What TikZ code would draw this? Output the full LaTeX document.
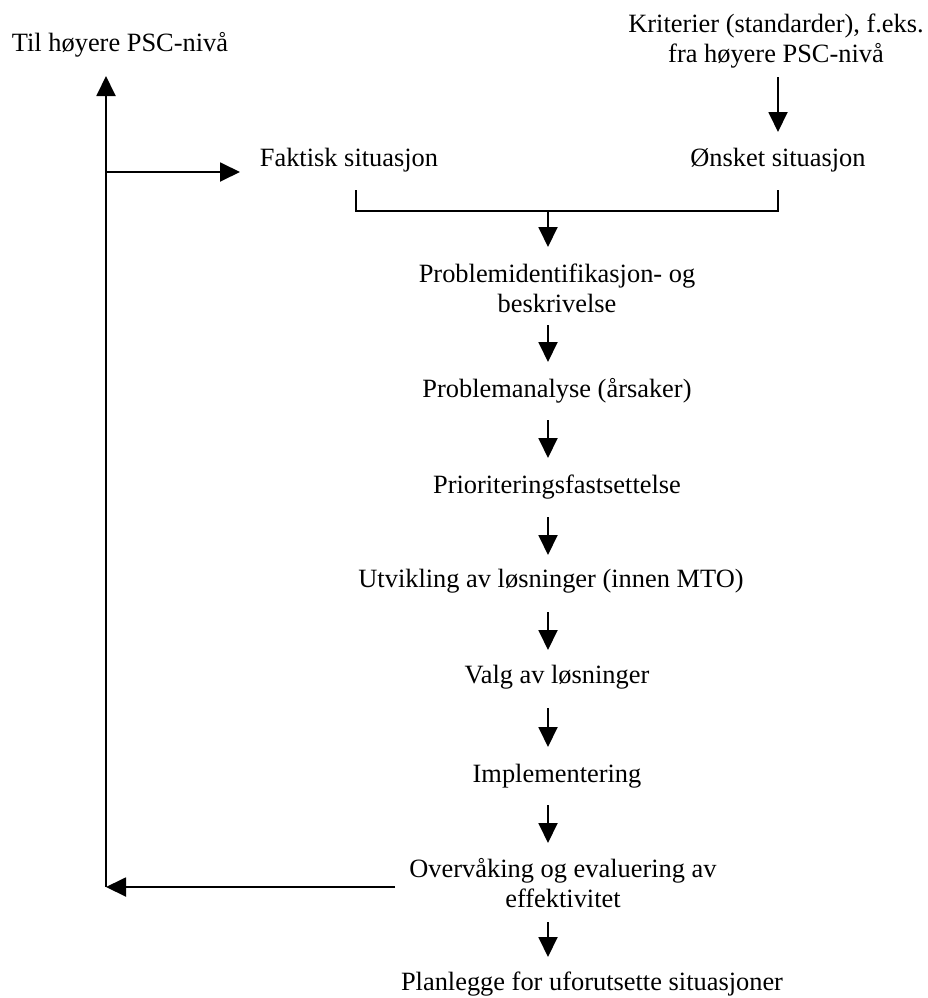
\documentclass[tikz,border=0pt]{standalone}
\usepackage{fontspec}
\setmainfont{Liberation Serif}
\usetikzlibrary{arrows.meta}
\tikzset{
  lbl/.style={inner sep=0pt, anchor=base, align=center, font=\fontsize{26.4}{30}\selectfont},
  ln/.style={line width=1.9pt},
  arr/.style={line width=1.9pt, -{Triangle[length=20pt,width=19pt]}}
}
\begin{document}
\begin{tikzpicture}[x=1pt,y=-1pt]
\useasboundingbox (0,0) rectangle (928,998);
% texts (base = baseline of the last line)
\node[lbl] (til)  at (120,52)  {Til høyere PSC-nivå};
\node[lbl] (krit) at (776,63)  {Kriterier (standarder), f.eks.\\fra høyere PSC-nivå};
\node[lbl] (fakt) at (349,166) {Faktisk situasjon};
\node[lbl] (onsk) at (778,166) {Ønsket situasjon};
\node[lbl] (pid)  at (557,312) {Problemidentifikasjon- og\\beskrivelse};
\node[lbl] (pa)   at (557,397) {Problemanalyse (årsaker)};
\node[lbl] (prio) at (557,493) {Prioriteringsfastsettelse};
\node[lbl] (utv)  at (551,587) {Utvikling av løsninger (innen MTO)};
\node[lbl] (valg) at (557,683) {Valg av løsninger};
\node[lbl] (impl) at (557,782) {Implementering};
\node[lbl] (ove)  at (563,907) {Overvåking og evaluering av\\effektivitet};
\node[lbl] (plan) at (592,990) {Planlegge for uforutsette situasjoner};
% connector end points
\coordinate (bl) at (356,190);
\coordinate (br) at (778,190);
\coordinate (bm) at (548,211);
\coordinate (lbot) at (106,887);
\coordinate (ltop) at (106,76);
\coordinate (lmid) at (106,172);
\coordinate (ftip) at (240,172);
\coordinate (ks) at (778,77);
\coordinate (ke) at (778,132);
\coordinate (a1) at (548,247);
\coordinate (a2s) at (548,325);  \coordinate (a2e) at (548,362);
\coordinate (a3s) at (548,420);  \coordinate (a3e) at (548,458);
\coordinate (a4s) at (548,517);  \coordinate (a4e) at (548,555);
\coordinate (a5s) at (548,612);  \coordinate (a5e) at (548,650);
\coordinate (a6s) at (548,708);  \coordinate (a6e) at (548,747);
\coordinate (a7s) at (548,805);  \coordinate (a7e) at (548,843);
\coordinate (a8s) at (548,922);  \coordinate (a8e) at (548,957);
\coordinate (os) at (395,887);
% connectors
\draw[arr] (ks) -- (ke);
\draw[ln] (bl) |- (bm) -| (br);
\draw[arr] (bm) -- (a1);
\draw[arr] (a2s) -- (a2e);
\draw[arr] (a3s) -- (a3e);
\draw[arr] (a4s) -- (a4e);
\draw[arr] (a5s) -- (a5e);
\draw[arr] (a6s) -- (a6e);
\draw[arr] (a7s) -- (a7e);
\draw[arr] (a8s) -- (a8e);
\draw[arr] (os) -- (lbot);
\draw[arr] (lbot) -- (ltop);
\draw[arr] (lmid) -- (ftip);
\end{tikzpicture}
\end{document}
